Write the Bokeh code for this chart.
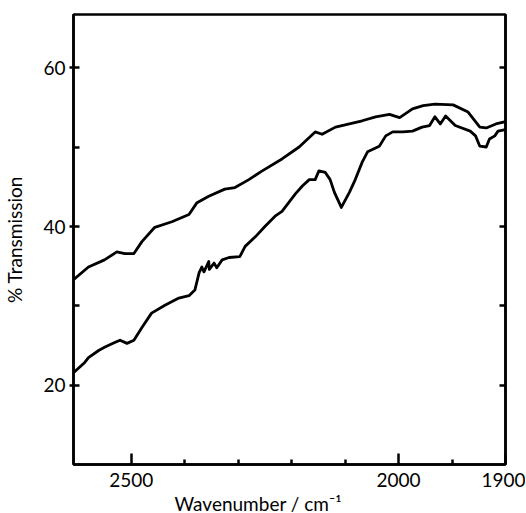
import numpy as np
from bokeh.plotting import figure
from bokeh.models import FixedTicker, LinearAxis, Range1d, Title
from bokeh.embed import file_html
from bokeh.resources import INLINE

# IR spectrum, wavenumber (cm^-1) vs % transmission (two traces)
upper_wn = [2608, 2580, 2550, 2527, 2512, 2495, 2480, 2456, 2424, 2392,
            2377, 2355, 2325, 2306, 2280, 2255, 2218, 2186, 2156, 2143,
            2118, 2086, 2068, 2043, 2017, 1999, 1987, 1977, 1966, 1949,
            1935, 1924, 1918, 1909, 1900]
upper_t = [33.3, 34.9, 35.8, 36.8, 36.6, 36.6, 38.1, 39.9, 40.6, 41.5,
           43.0, 43.8, 44.7, 44.9, 45.9, 47.0, 48.5, 50.0, 51.9, 51.6,
           52.5, 53.0, 53.3, 53.8, 54.1, 53.7, 54.8, 55.2, 55.4, 55.3,
           54.4, 52.5, 52.4, 52.9, 53.2]

lower_wn = [2608, 2587, 2580, 2561, 2550, 2531, 2521, 2508, 2495, 2480,
            2462, 2437, 2411, 2392, 2381, 2373, 2368, 2364, 2355, 2354,
            2345, 2340, 2330, 2317, 2297, 2287, 2268, 2250, 2231, 2218,
            2193, 2180, 2167, 2156, 2149, 2137, 2128, 2120, 2107, 2092,
            2081, 2068, 2058, 2036, 2024, 2011, 1996, 1987, 1978, 1971,
            1966, 1961, 1956, 1947, 1933, 1928, 1924, 1918, 1915, 1910,
            1907, 1900]
lower_t = [21.6, 22.9, 23.5, 24.4, 24.8, 25.4, 25.7, 25.3, 25.7, 27.3,
           29.1, 30.1, 31.0, 31.3, 32.0, 34.2, 34.9, 34.3, 35.6, 34.6,
           35.4, 34.8, 35.8, 36.1, 36.2, 37.5, 38.7, 40.0, 41.3, 41.9,
           44.1, 45.1, 45.9, 45.9, 47.0, 46.8, 45.9, 44.3, 42.4, 44.3,
           45.9, 48.1, 49.4, 50.1, 51.4, 51.9, 51.9, 52.0, 52.5, 52.7,
           53.8, 52.9, 53.9, 52.7, 52.0, 51.4, 50.1, 50.0, 51.0, 51.4,
           52.0, 52.2]

x_labels = [2500, 2000, 1900]
x_minor = [2400, 2300, 2200, 2100, 1950]
y_labels = [20, 40, 60]
y_minor = [30, 50]
right_ticks = [20, 30, 40, 60]

WN_LEFT, WN_BREAK, WN_RIGHT = 2608, 2000, 1900


def to_axis(wn):
    """Instrument abscissa: scale doubles below 2000 cm-1."""
    wn = np.asarray(wn, dtype=float)
    return np.where(wn >= WN_BREAK, WN_LEFT - wn,
                    (WN_LEFT - WN_BREAK) + 2.0 * (WN_BREAK - wn))


FONT = "Lato"

p = figure(frame_width=432, frame_height=450,
           x_range=Range1d(0, float(to_axis(WN_RIGHT))),
           y_range=Range1d(10.06, 66.67),
           output_backend="svg", toolbar_location=None,
           min_border_left=72, min_border_top=14, min_border_right=20,
           min_border_bottom=20)
p.background_fill_color = "white"
p.border_fill_color = "white"
p.outline_line_color = "black"
p.outline_line_width = 2.5
p.xgrid.visible = False
p.ygrid.visible = False

p.line(to_axis(upper_wn), upper_t, line_color="black", line_width=2.8,
       line_join="round")
p.line(to_axis(lower_wn), lower_t, line_color="black", line_width=2.8,
       line_join="round")

# x axis
xa = p.xaxis[0]
xa.ticker = FixedTicker(ticks=[float(v) for v in to_axis(x_labels)],
                        minor_ticks=[float(v) for v in to_axis(x_minor)])
xa.major_label_overrides = {float(t): str(l) for t, l in zip(to_axis(x_labels), x_labels)}
xa.axis_line_width = 2.5
xa.major_tick_in = 11
xa.major_tick_out = 0
xa.minor_tick_in = 5
xa.minor_tick_out = 0
xa.major_tick_line_width = 2.5
xa.minor_tick_line_width = 2.5
xa.major_label_standoff = 8
xa.major_label_text_font = FONT
xa.major_label_text_font_size = "19px"
xa.major_label_text_color = "black"

# x-axis title, set slightly left of centre as in the original
p.add_layout(Title(text="Wavenumber / cm\u207b\u00b9", align="left", offset=101,
                   text_font=FONT, text_font_size="19px",
                   text_font_style="normal", text_color="black",
                   standoff=0), "below")

# y axis
ya = p.yaxis[0]
ya.ticker = FixedTicker(ticks=y_labels, minor_ticks=y_minor)
ya.axis_label = "% Transmission"
ya.axis_line_width = 2.5
ya.major_tick_in = 6
ya.major_tick_out = 4
ya.minor_tick_in = 6
ya.minor_tick_out = 0
ya.major_tick_line_width = 2.5
ya.minor_tick_line_width = 2.5
ya.major_label_standoff = 4
ya.axis_label_standoff = 14
ya.major_label_text_font = FONT
ya.major_label_text_font_size = "19px"
ya.axis_label_text_font = FONT
ya.axis_label_text_font_size = "19px"
ya.axis_label_text_font_style = "normal"
ya.major_label_text_color = "black"
ya.axis_label_text_color = "black"

# right-hand tick marks (no labels)
ra = LinearAxis(ticker=FixedTicker(ticks=right_ticks, minor_ticks=[]),
                major_label_overrides={t: "" for t in right_ticks},
                axis_line_width=2.5, major_tick_in=6, major_tick_out=0,
                major_tick_line_width=2.5, minor_tick_in=0, minor_tick_out=0,
                major_label_standoff=0)
p.add_layout(ra, "right")

open("out.html", "w").write(file_html(p, INLINE))
